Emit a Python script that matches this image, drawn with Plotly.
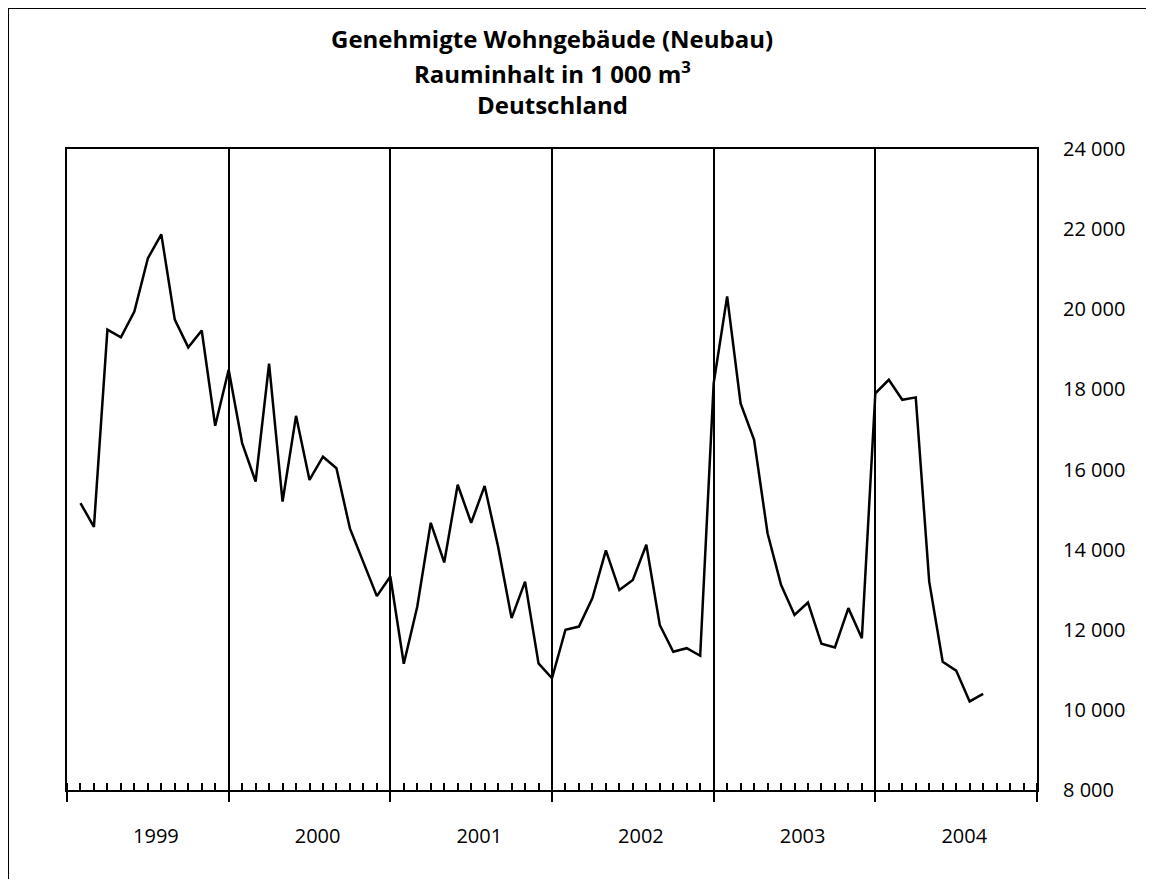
import plotly.graph_objects as go

years = ["1999", "2000", "2001", "2002", "2003", "2004"]
months_per_year = 12

v1999 = [15160, 14570, 19490, 19300, 19940, 21270, 21870, 19740, 19050, 19470, 17090, 18490]
v2000 = [16660, 15700, 18640, 15200, 17340, 15740, 16320, 16030, 14530, 13670, 12840, 13330]
v2001 = [11150, 12580, 14670, 13680, 15620, 14670, 15590, 14070, 12290, 13200, 11160, 10790]
v2002 = [12000, 12080, 12790, 13980, 12990, 13240, 14120, 12120, 11450, 11540, 11350, 18150]
v2003 = [20320, 17650, 16740, 14410, 13120, 12370, 12680, 11650, 11560, 12540, 11790, 17900]
v2004 = [18240, 17740, 17800, 13200, 11200, 10980, 10210, 10400]

values = v1999 + v2000 + v2001 + v2002 + v2003 + v2004
x_pos = list(range(1, len(values) + 1))

y_ticks = [8000, 10000, 12000, 14000, 16000, 18000, 20000, 22000, 24000]
y_ticktext = [f"{v:,}".replace(",", " ") for v in y_ticks]

n_total = months_per_year * len(years)
# year labels sit at the middle of the monthly points of each year
year_centers = [months_per_year * i + 6.6 for i in range(len(years))]
year_bounds = [months_per_year * i for i in range(len(years) + 1)]

fig = go.Figure()
fig.add_trace(go.Scatter(
    x=x_pos, y=values, mode="lines",
    line=dict(color="black", width=2.5),
    xaxis="x", yaxis="y", showlegend=False, hoverinfo="skip",
))
fig.add_trace(go.Scatter(
    x=x_pos, y=values, mode="lines",
    line=dict(color="rgba(0,0,0,0)", width=0),
    xaxis="x2", yaxis="y", showlegend=False, hoverinfo="skip",
))

FONT = "Open Sans"

# the page body adds an 8px offset; size and margins compensate for it
fig.update_layout(
    width=1138, height=871,
    margin=dict(l=59, r=109, t=141, b=89),
    paper_bgcolor="white", plot_bgcolor="white",
    font=dict(family=FONT, color="black", size=19),
    xaxis=dict(
        range=[0, n_total],
        tickmode="array", tickvals=year_centers, ticktext=years,
        ticks="", showgrid=False, zeroline=False,
        showline=True, linecolor="black", linewidth=2, mirror=True,
        tickfont=dict(family=FONT, size=20, color="black"),
        ticklabelstandoff=27,
        minor=dict(tickmode="linear", tick0=0, dtick=1, ticks="inside",
                   ticklen=7, tickwidth=1.5, tickcolor="black", showgrid=False),
    ),
    xaxis2=dict(
        range=[0, n_total], overlaying="x", side="bottom",
        tickmode="array", tickvals=year_bounds,
        ticks="outside", ticklen=11, tickwidth=2, tickcolor="black",
        showticklabels=False, showgrid=True, gridcolor="black", gridwidth=2,
        zeroline=False, showline=False,
    ),
    yaxis=dict(
        range=[8000, 24000], side="right",
        tickmode="array", tickvals=y_ticks, ticktext=y_ticktext,
        ticks="", showgrid=False, zeroline=False,
        showline=True, linecolor="black", linewidth=2, mirror=True,
        tickfont=dict(family=FONT, size=20, color="black"),
        ticklabelstandoff=20,
    ),
)

title_lines = [
    ("Genehmigte Wohngebäude (Neubau)", 1.172),
    ("Rauminhalt in 1 000 m<sup>3</sup>", 1.1186),
    ("Deutschland", 1.0702),
]
for text, yy in title_lines:
    fig.add_annotation(
        text=f"<b>{text}</b>", xref="paper", yref="paper", x=0.5, y=yy,
        xanchor="center", yanchor="middle", showarrow=False,
        font=dict(family=FONT, size=24, color="black"),
    )

# outer frame (left and top edges visible in the reference)
fig.add_shape(type="line", xref="paper", yref="paper",
              x0=-0.0608, x1=-0.0608, y0=-0.2, y1=1.22,
              line=dict(color="black", width=2))
fig.add_shape(type="line", xref="paper", yref="paper",
              x0=-0.0608, x1=1.2, y0=1.22, y1=1.22,
              line=dict(color="black", width=2))

fig.write_html("out.html", config={"displayModeBar": False})
